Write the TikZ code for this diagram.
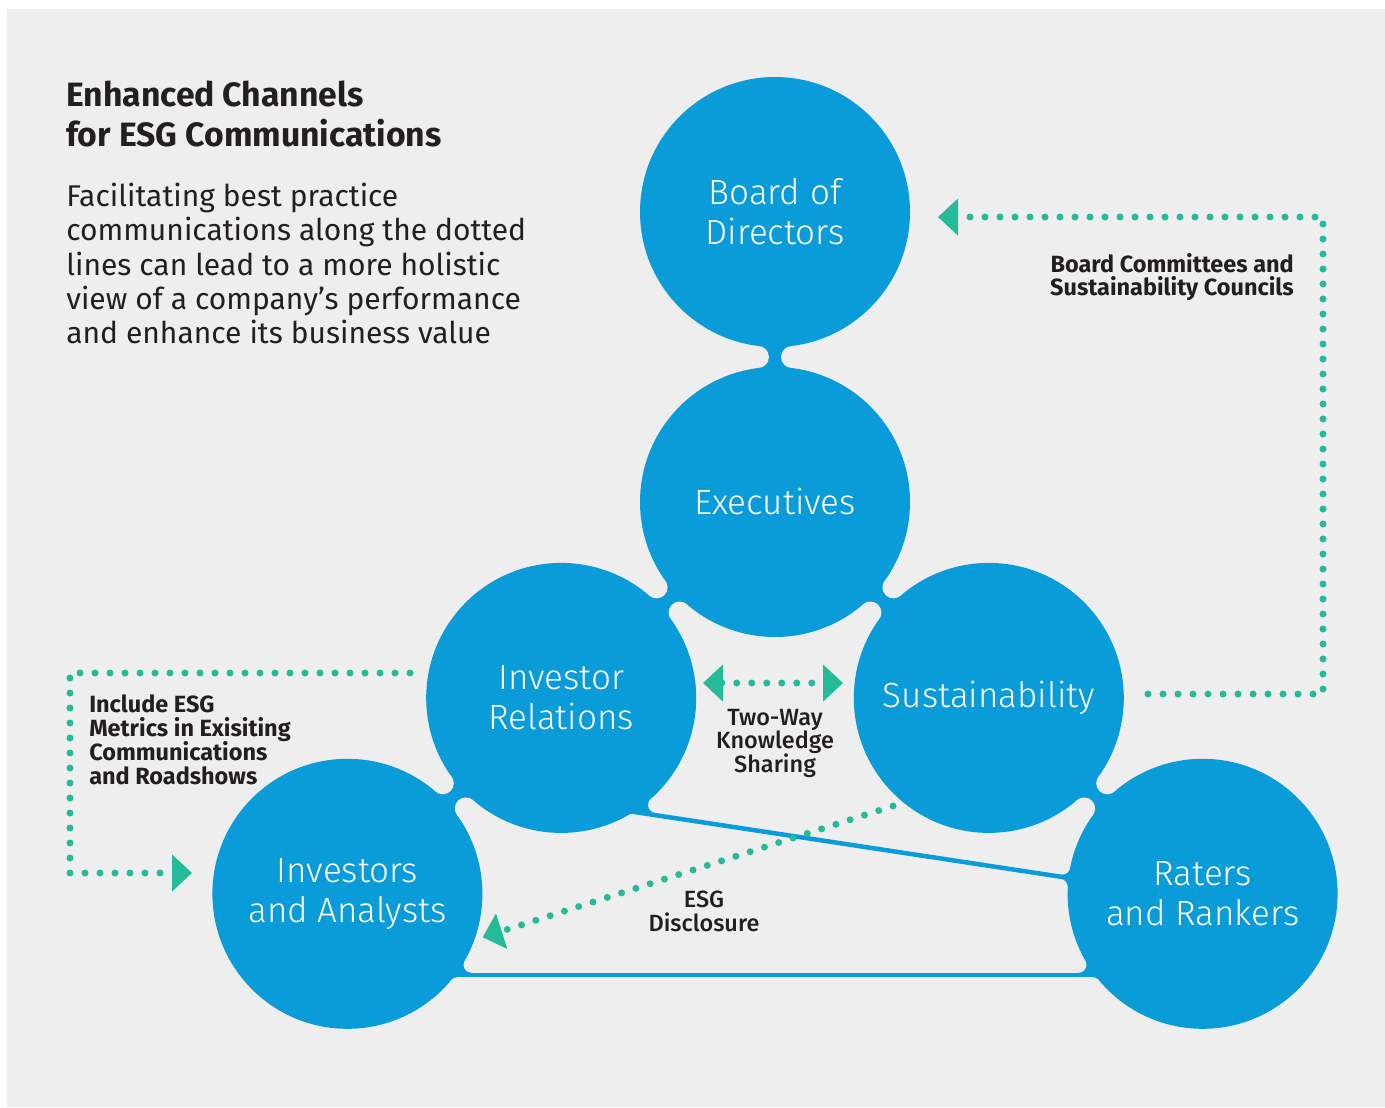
\documentclass[tikz,border=0pt]{standalone}
\usepackage{fontspec}
\setmainfont{Fira Sans}
\newfontfamily\lightfont{Fira Sans Light}
\newfontfamily\medfont{Fira Sans Medium}
\usetikzlibrary{calc,arrows.meta}
\definecolor{cblue}{HTML}{0A9BD9}
\definecolor{cteal}{HTML}{26BB98}
\definecolor{bg}{HTML}{EEEEEE}
\definecolor{ink}{HTML}{231F20}
% concave neck between two touching circles (r=135px, distance 290px)
\newcommand\bridge[2]{%
  \coordinate (nm) at ($(#1.center)!0.5!(#2.center)$);
  \coordinate (nfa) at ($(nm)!12.795pt!90:(#2.center)$);
  \coordinate (nfb) at ($(nm)!12.795pt!-90:(#2.center)$);
  \fill[cblue] ($(#1.center)!0.92466!(nfa)$) -- ($(#2.center)!0.92466!(nfa)$)
     -- ($(#2.center)!0.92466!(nfb)$) -- ($(#1.center)!0.92466!(nfb)$) -- cycle;
  \fill[bg] (nfa) circle (11) (nfb) circle (11);
}
% fillet between a bar and a circle
\newcommand\fillet[4]{%
  \fill[cblue] #1 -- #2 -- #3 -- #4 -- cycle;
  \fill[bg] #2 circle (8);
}
\begin{document}
\begin{tikzpicture}[x=0.75pt,y=-0.75pt,
  circ/.style={circle, fill=cblue, minimum size=202.5pt, inner sep=0pt, text=white,
    align=center, font=\lightfont\fontsize{26.25}{30}\selectfont},
  dotline/.style={cteal, line width=5.25pt, line cap=round, dash pattern=on 0pt off 11.25pt},
  arrowend/.style={-{Triangle[length=15pt,width=27pt]}},
  arrowboth/.style={{Triangle[length=15pt,width=27pt]}-{Triangle[length=15pt,width=27pt]}},
  bar/.style={cblue, line width=3.375pt},
  titlefont/.style={text=ink, inner sep=0pt, font=\bfseries\fontsize{25.3}{30}\selectfont},
  bodyfont/.style={text=ink, inner sep=0pt, font=\fontsize{22.5}{26}\selectfont},
  lbl/.style={text=ink, inner sep=0pt, font=\bfseries\fontsize{17.6}{18}\selectfont},
  mlbl/.style={text=ink, inner sep=0pt, font=\medfont\fontsize{17.6}{18}\selectfont},
]
\useasboundingbox (0,0) rectangle (1385,1107);
\fill[white] (0,0) rectangle (1385,1107);
\fill[bg] (7,9) rectangle (1385,1107);

% circles
\node[circ] (board) at (775,212) {Board of\\Directors};
\node[circ] (exec) at (775,502) {Executives};
\node[circ] (ir) at (561.2,697.9) {Investor\\Relations};
\node[circ] (sust) at (988.8,697.9) {Sustainability};
\node[circ] (inv) at (347.4,893.8) {Investors\\and Analysts};
\node[circ] (rat) at (1202.6,893.8) {Raters\\and Rankers};

% necks
\bridge{board}{exec}
\bridge{exec}{ir}
\bridge{exec}{sust}
\bridge{ir}{inv}
\bridge{sust}{rat}

% thin bars
\coordinate (irl) at (608.45,808);
\coordinate (ratl) at (1092.9,881.6);
\coordinate (invb) at (400,975);
\coordinate (ratb) at (1150,975);
\draw[bar] (irl) -- (ratl);
\draw[bar] (invb) -- (ratb);
\fillet{(464.61,960.78)}{(471.56,964.75)}{(471.56,972.75)}{(440,975)}
\fillet{(451.19,980.13)}{(457.34,985.25)}{(457.34,977.25)}{(430,975)}
\fillet{(1085.39,960.78)}{(1078.44,964.75)}{(1078.44,972.75)}{(1110,975)}
\fillet{(1098.81,980.13)}{(1092.66,985.25)}{(1092.66,977.25)}{(1120,975)}
\fillet{(650.79,798.89)}{(656.1,804.87)}{(654.9,812.78)}{(608.45,808)}
\fillet{(1070.07,868.1)}{(1062.22,866.58)}{(1061.02,874.49)}{(1092.9,881.6)}
\fillet{(1067.74,887.31)}{(1059.75,886.93)}{(1060.95,879.02)}{(1092.9,881.6)}

% dotted channels
\coordinate (bc1) at (1148,694);
\coordinate (bc2) at (1323,694);
\coordinate (bc3) at (1323,217);
\coordinate (bc4) at (938,217);
\draw[dotline, arrowend] (bc1) -- (bc2) -- (bc3) -- (bc4);

\coordinate (lc1) at (410,673);
\coordinate (lc2) at (70,673);
\coordinate (lc3) at (70,873);
\coordinate (lc4) at (192,873);
\draw[dotline, arrowend] (lc1) -- (lc2) -- (lc3) -- (lc4);

\coordinate (tw1) at (703,683);
\coordinate (tw2) at (843,683);
\draw[dotline, arrowboth] (tw1) -- (tw2);

\coordinate (ed1) at (893,806);
\coordinate (ed2) at (482.6,937.3);
\draw[dotline, arrowend] (ed1) -- (ed2);

% title and body
\node[titlefont, anchor=base west] (t1) at (66,106) {Enhanced Channels};
\node[titlefont, anchor=base west] (t2) at (66,146) {for ESG Communications};
\node[bodyfont, anchor=base west] (b1) at (66,206.5) {Facilitating best practice};
\node[bodyfont, anchor=base west] (b2) at (66,240.8) {communications along the dotted};
\node[bodyfont, anchor=base west] (b3) at (66,275.1) {lines can lead to a more holistic};
\node[bodyfont, anchor=base west] (b4) at (66,309.4) {view of a company’s performance};
\node[bodyfont, anchor=base west] (b5) at (66,343.7) {and enhance its business value};

% channel labels
\node[lbl, anchor=base east] (bl1) at (1294,272) {Board Committees and};
\node[lbl, anchor=base east] (bl2) at (1294,295.5) {Sustainability Councils};
\node[lbl, anchor=base west] (il1) at (89,712) {Include ESG};
\node[lbl, anchor=base west] (il2) at (89,736) {Metrics in Exisiting};
\node[lbl, anchor=base west] (il3) at (89,760) {Communications};
\node[lbl, anchor=base west] (il4) at (89,784) {and Roadshows};
\node[mlbl, anchor=base] (tl1) at (775,725) {Two-Way};
\node[mlbl, anchor=base] (tl2) at (775,748.5) {Knowledge};
\node[mlbl, anchor=base] (tl3) at (775,772) {Sharing};
\node[mlbl, anchor=base] (el1) at (704,907) {ESG};
\node[mlbl, anchor=base] (el2) at (704,931) {Disclosure};
\end{tikzpicture}
\end{document}
